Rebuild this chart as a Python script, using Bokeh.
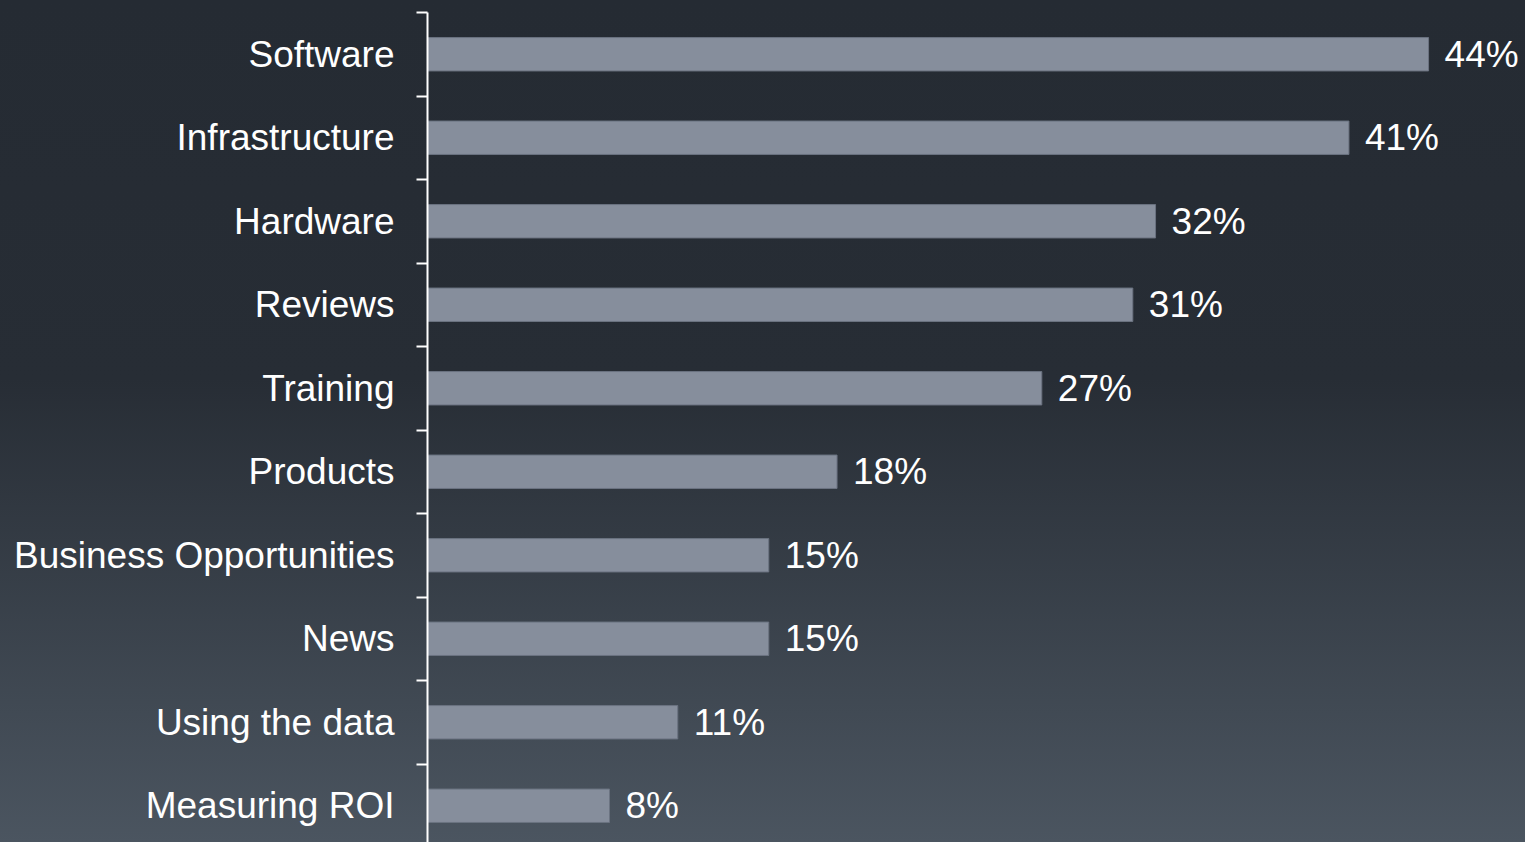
from bokeh.plotting import figure
from bokeh.models import ColumnDataSource, Range1d, FixedTicker, GlobalInlineStyleSheet
from bokeh.core.properties import value
from bokeh.embed import file_html
from bokeh.resources import INLINE

categories = ["Software", "Infrastructure", "Hardware", "Reviews", "Training",
              "Products", "Business Opportunities", "News", "Using the data", "Measuring ROI"]
values = [44.0, 40.5, 32.0, 31.0, 27.0, 18.0, 15.0, 15.0, 11.0, 8.0]
value_labels = ["44%", "41%", "32%", "31%", "27%", "18%", "15%", "15%", "11%", "8%"]

n = len(categories)
ypos = [n - i - 0.5 for i in range(n)]
boundaries = list(range(0, n + 1))

src = ColumnDataSource(dict(y=ypos, v=values, lab=value_labels, cat=categories))

FONT = "Liberation Sans"

bg_css = GlobalInlineStyleSheet(css="""
html { min-height: 100%; background: linear-gradient(180deg, #252b33 0%, #272d35 45%, #4b5560 100%) no-repeat fixed; }
body { background: transparent; }
""")

p = figure(width=1525, height=842, output_backend="svg", toolbar_location=None,
           x_range=Range1d(0, 48.26), y_range=Range1d(0.06, 10),
           x_axis_location=None, min_border_left=427, min_border_right=0,
           min_border_top=12, min_border_bottom=0)
p.stylesheets = [bg_css]
p.background_fill_color = None
p.border_fill_color = None
p.outline_line_color = None
p.xgrid.visible = False
p.ygrid.visible = False

p.hbar(y="y", right="v", left=0, height=0.4, source=src,
       fill_color="#868e9c", line_color="#6b7381", line_width=1)

p.text(x="v", y="y", text="lab", source=src, x_offset=16,
       text_baseline="middle", text_align="left",
       text_font=value(FONT), text_font_size="37px", text_color="white")

ax = p.yaxis[0]
ax.ticker = FixedTicker(ticks=ypos, minor_ticks=boundaries)
ax.major_label_overrides = {y: c for y, c in zip(ypos, categories)}
ax.major_tick_in = 0
ax.major_tick_out = 0
ax.minor_tick_in = 0
ax.minor_tick_out = 11
ax.minor_tick_line_color = "white"
ax.minor_tick_line_width = 2
ax.axis_line_color = "white"
ax.axis_line_width = 2
ax.major_label_text_font = FONT
ax.major_label_text_font_size = "37px"
ax.major_label_text_color = "white"
ax.major_label_standoff = 22

open("out.html", "w").write(file_html(p, INLINE))
